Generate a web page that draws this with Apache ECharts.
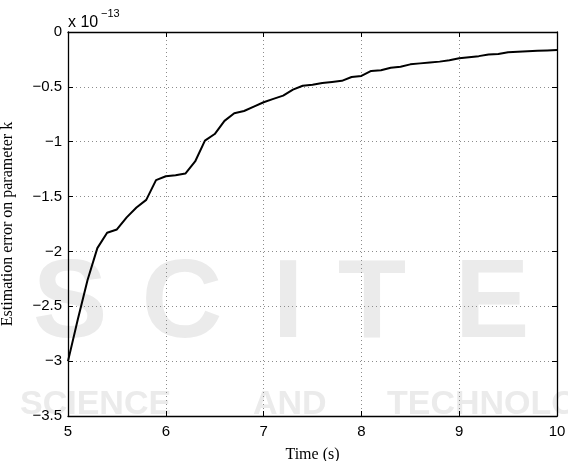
<!DOCTYPE html>
<html>
<head>
<meta charset="utf-8">
<script src="https://cdn.jsdelivr.net/npm/echarts@6/dist/echarts.min.js"></script>
<style>
  html, body { margin: 0; padding: 0; background: #fff; }
  #chart { width: 568px; height: 461px; }
</style>
</head>
<body>
<div id="chart"></div>
<script>
// time samples (s)
const timeValues = [
  5.0, 5.1, 5.2, 5.3, 5.4, 5.5, 5.6, 5.7, 5.8, 5.9,
  6.0, 6.1, 6.2, 6.3, 6.4, 6.5, 6.6, 6.7, 6.8, 6.9,
  7.0, 7.1, 7.2, 7.3, 7.4, 7.5, 7.6, 7.7, 7.8, 7.9,
  8.0, 8.1, 8.2, 8.3, 8.4, 8.5, 8.6, 8.7, 8.8, 8.9,
  9.0, 9.1, 9.2, 9.3, 9.4, 9.5, 9.6, 9.7, 9.8, 9.9, 10.0
];
// estimation error on k, in units of 1e-13
const errorValues = [
  -3.0, -2.62, -2.26, -1.97, -1.83, -1.80, -1.69, -1.60, -1.53, -1.35,
  -1.315, -1.305, -1.29, -1.18, -0.99, -0.93, -0.81, -0.74, -0.72, -0.68,
  -0.64, -0.61, -0.58, -0.525, -0.49, -0.48, -0.465, -0.455, -0.445, -0.41,
  -0.40, -0.355, -0.348, -0.325, -0.316, -0.295, -0.286, -0.277, -0.27, -0.258,
  -0.24, -0.23, -0.22, -0.205, -0.20, -0.185, -0.18, -0.176, -0.172, -0.168, -0.165
];
const xTicks = [5, 6, 7, 8, 9, 10];
const yTicks = [-3.5, -3, -2.5, -2, -1.5, -1, -0.5, 0];

const lineData = timeValues.map((t, i) => [t, errorValues[i]]);

const chart = echarts.init(document.getElementById('chart'));

const sansFont = '"Liberation Sans", Arial, Helvetica, sans-serif';
const serifFont = '"Liberation Serif", "Times New Roman", serif';
const dotted = { color: '#8c8c8c', width: 1, type: [1, 3] };
const wmColor = '#ebebeb';

// faint watermark letters in the background
const wmBig = [['S', 70], ['C', 182], ['I', 288], ['T', 372], ['E', 492]].map(([ch, x]) => ({
  type: 'text', x: x, y: 306, z: -10, silent: true,
  style: { text: ch, fill: wmColor, font: 'bold 112px ' + sansFont, align: 'center', verticalAlign: 'middle' }
}));
const wmSmall = [['SCIENCE', 20], ['AND', 253], ['TECHNOLOGY', 387]].map(([txt, x]) => ({
  type: 'text', x: x, y: 405, z: -10, silent: true,
  style: { text: txt, fill: wmColor, font: 'bold 34px ' + sansFont, align: 'left', verticalAlign: 'middle' }
}));

const option = {
  backgroundColor: '#fff',
  animation: false,
  grid: { left: 68, right: 11, top: 32, bottom: 45, outerBoundsMode: 'none', containLabel: false },
  graphic: [
    ...wmBig,
    ...wmSmall,
    { type: 'text', left: 68, top: 15,
      style: { text: 'x 10', fill: '#000', font: '16px ' + sansFont } },
    { type: 'text', left: 101, top: 8,
      style: { text: '\u221213', fill: '#000', font: '11px ' + sansFont } }
  ],
  xAxis: [
    {
      type: 'value', min: 5, max: 10, interval: 1,
      name: 'Time (s)', nameLocation: 'middle', nameGap: 31,
      nameTextStyle: { fontFamily: serifFont, fontSize: 16, color: '#000' },
      axisLine: { show: true, onZero: false, lineStyle: { color: '#000', width: 1.3 } },
      axisTick: { show: true, inside: true, length: 5, lineStyle: { color: '#000' } },
      axisLabel: { fontFamily: sansFont, fontSize: 15, color: '#000', margin: 8,
        customValues: xTicks },
      splitLine: { show: true, lineStyle: dotted }
    },
    {
      type: 'value', min: 5, max: 10, interval: 1, position: 'top',
      axisLine: { show: true, onZero: false, lineStyle: { color: '#000', width: 1.3 } },
      axisTick: { show: true, inside: true, length: 5, lineStyle: { color: '#000' } },
      axisLabel: { show: false },
      splitLine: { show: false }
    }
  ],
  yAxis: [
    {
      type: 'value', min: -3.5, max: 0, interval: 0.5,
      name: 'Estimation error on parameter k', nameLocation: 'middle', nameGap: 52,
      nameTextStyle: { fontFamily: serifFont, fontSize: 16, color: '#000' },
      axisLine: { show: true, onZero: false, lineStyle: { color: '#000', width: 1.3 } },
      axisTick: { show: true, inside: true, length: 5, lineStyle: { color: '#000' } },
      axisLabel: { fontFamily: sansFont, fontSize: 15, color: '#000', margin: 6,
        customValues: yTicks,
        formatter: v => String(v).replace('-', '\u2212') },
      splitLine: { show: true, lineStyle: dotted }
    },
    {
      type: 'value', min: -3.5, max: 0, interval: 0.5, position: 'right',
      axisLine: { show: true, onZero: false, lineStyle: { color: '#000', width: 1.3 } },
      axisTick: { show: true, inside: true, length: 5, lineStyle: { color: '#000' } },
      axisLabel: { show: false },
      splitLine: { show: false }
    }
  ],
  series: [{
    type: 'line',
    data: lineData,
    showSymbol: false,
    symbol: 'none',
    lineStyle: { color: '#000', width: 2 },
    z: 5
  }]
};

chart.setOption(option);
</script>
</body>
</html>
